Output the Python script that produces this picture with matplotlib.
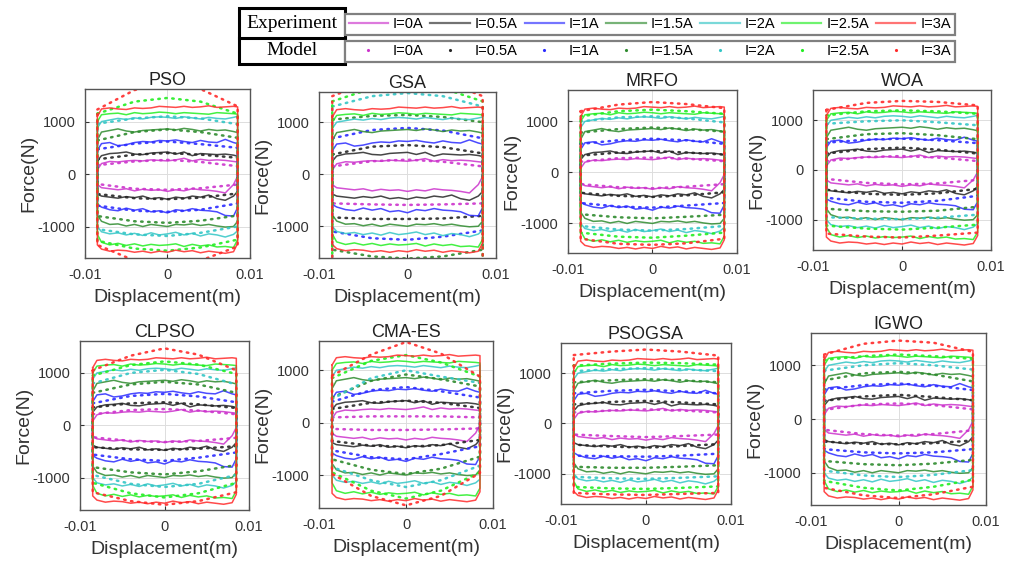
import matplotlib.pyplot as plt
from matplotlib.lines import Line2D

plt.rcParams['font.family'] = ['Liberation Sans', 'DejaVu Sans']

currents = ['I=0A', 'I=0.5A', 'I=1A', 'I=1.5A', 'I=2A', 'I=2.5A', 'I=3A']
colors = ['#cc33cc', '#262626', '#2b2bff', '#2e8b2e', '#33c6c6', '#22ee22', '#ff2a2a']

# measured loops (same test data in every panel)
disp = [-0.0085, -0.008, -0.007, -0.006, -0.005, -0.004, -0.003, -0.002, -0.001, 0.0,
        0.001, 0.002, 0.003, 0.004, 0.005, 0.006, 0.007, 0.008, 0.0085]
exp_upper = [
    [80, 200, 240, 230, 250, 260, 250, 270, 260, 250, 270, 300, 250, 280, 260, 270, 260, 240, 230],
    [250, 350, 390, 400, 420, 380, 370, 400, 410, 420, 380, 420, 350, 390, 380, 370, 380, 360, 340],
    [450, 580, 600, 540, 560, 600, 620, 610, 640, 630, 650, 620, 600, 640, 610, 600, 660, 600, 580],
    [650, 800, 830, 860, 820, 800, 830, 840, 850, 860, 840, 870, 850, 820, 850, 830, 840, 810, 790],
    [880, 1000, 1030, 1060, 1040, 1070, 1050, 1080, 1090, 1080, 1060, 1090, 1070, 1050, 1080, 1060, 1050, 1080, 1100],
    [1000, 1130, 1150, 1160, 1130, 1170, 1150, 1160, 1180, 1170, 1150, 1170, 1160, 1150, 1140, 1170, 1160, 1150, 1140],
    [1100, 1240, 1260, 1240, 1230, 1260, 1250, 1260, 1290, 1280, 1270, 1290, 1270, 1280, 1300, 1270, 1280, 1290, 1280],
]
exp_lower = [
    [-200, -260, -280, -300, -280, -320, -290, -310, -300, -330, -300, -320, -280, -300, -310, -330, -360, -200, -40],
    [-380, -420, -440, -460, -430, -450, -420, -470, -450, -480, -440, -460, -420, -440, -400, -470, -500, -420, -330],
    [-580, -630, -680, -700, -650, -690, -660, -720, -700, -740, -680, -700, -660, -690, -700, -720, -790, -800, -640],
    [-780, -900, -960, -950, -990, -960, -1000, -960, -980, -1000, -960, -970, -950, -980, -960, -990, -1010, -1000, -900],
    [-1000, -1100, -1140, -1120, -1160, -1130, -1170, -1120, -1160, -1140, -1110, -1160, -1130, -1180, -1140, -1160, -1200, -1150, -1080],
    [-1150, -1300, -1350, -1320, -1360, -1330, -1370, -1340, -1360, -1350, -1330, -1380, -1340, -1370, -1350, -1390, -1380, -1400, -1250],
    [-1350, -1430, -1470, -1450, -1460, -1490, -1470, -1500, -1470, -1490, -1450, -1480, -1460, -1500, -1470, -1490, -1510, -1480, -1320],
]

# identified model loops, one set per optimiser
model_disp = [-0.0085, -0.004, 0.0, 0.004, 0.0085]
pso_upper = [[170, 240, 270, 230, 150], [280, 370, 400, 370, 310], [470, 580, 620, 570, 500],
             [640, 800, 850, 800, 690], [960, 1060, 1100, 1060, 950], [1150, 1380, 1450, 1380, 1150],
             [1230, 1600, 1750, 1620, 1290]]
pso_lower = [[-190, -280, -300, -270, -200], [-380, -460, -480, -450, -370], [-600, -700, -720, -680, -560],
             [-800, -900, -930, -890, -790], [-1050, -1150, -1180, -1120, -1000], [-1270, -1420, -1460, -1400, -1250],
             [-1350, -1650, -1750, -1650, -1380]]
gsa_upper = [[150, 250, 280, 240, 150], [380, 530, 560, 520, 400], [690, 850, 890, 840, 690],
             [1050, 1120, 1140, 1100, 1000], [1300, 1500, 1560, 1500, 1300], [1400, 1650, 1750, 1650, 1400],
             [1500, 1800, 1900, 1800, 1500]]
gsa_lower = [[-560, -580, -590, -580, -560], [-830, -860, -860, -850, -800], [-1100, -1230, -1260, -1200, -1080],
             [-1450, -1580, -1620, -1580, -1450], [-1650, -1800, -1850, -1800, -1650], [-1750, -1900, -1950, -1900, -1750],
             [-1850, -2000, -2050, -2000, -1850]]
mrfo_upper = [[210, 280, 290, 270, 220], [330, 390, 420, 390, 350], [560, 630, 660, 630, 560],
              [780, 850, 880, 850, 800], [1000, 1080, 1100, 1060, 980], [1100, 1200, 1230, 1200, 1150],
              [1200, 1330, 1380, 1340, 1260]]
mrfo_lower = [[-230, -290, -310, -280, -230], [-400, -460, -480, -450, -390], [-600, -670, -690, -650, -600],
              [-820, -880, -900, -870, -830], [-1050, -1120, -1140, -1110, -1050], [-1180, -1260, -1280, -1240, -1180],
              [-1300, -1400, -1420, -1390, -1300]]
woa_upper = [[180, 260, 280, 250, 180], [330, 420, 450, 410, 330], [550, 610, 630, 600, 540],
             [620, 720, 740, 700, 620], [930, 980, 1000, 960, 900], [1100, 1180, 1200, 1180, 1130],
             [1210, 1350, 1390, 1370, 1300]]
woa_lower = [[-180, -260, -290, -270, -200], [-400, -480, -500, -470, -380], [-560, -640, -660, -620, -520],
             [-780, -830, -840, -820, -740], [-950, -980, -990, -960, -900], [-1120, -1180, -1200, -1160, -1100],
             [-1280, -1340, -1360, -1320, -1260]]
clpso_upper = [[210, 290, 310, 280, 210], [340, 420, 440, 400, 330], [420, 560, 600, 550, 440],
               [620, 780, 830, 780, 620], [800, 1000, 1060, 980, 780], [950, 1150, 1220, 1160, 980],
               [1050, 1330, 1470, 1350, 1050]]
clpso_lower = [[-230, -300, -320, -300, -240], [-420, -460, -470, -450, -400], [-560, -650, -680, -620, -520],
               [-800, -900, -940, -880, -760], [-950, -1120, -1180, -1120, -950], [-1100, -1300, -1380, -1300, -1100],
               [-1280, -1450, -1520, -1450, -1280]]
cmaes_upper = [[100, 120, 120, 120, 100], [260, 380, 420, 380, 280], [400, 620, 680, 600, 480],
               [480, 800, 920, 830, 690], [450, 850, 1000, 880, 760], [850, 1180, 1290, 1150, 880],
               [900, 1300, 1540, 1320, 880]]
cmaes_lower = [[-120, -140, -140, -130, -110], [-350, -440, -460, -430, -330], [-530, -660, -700, -600, -450],
               [-700, -900, -980, -880, -650], [-850, -1100, -1230, -1100, -820], [-950, -1300, -1450, -1300, -950],
               [-980, -1400, -1580, -1400, -960]]
psogsa_upper = [[220, 260, 280, 260, 220], [380, 430, 450, 420, 380], [600, 650, 670, 640, 600],
                [820, 860, 880, 860, 820], [1040, 1080, 1100, 1080, 1040], [1150, 1190, 1210, 1200, 1170],
                [1360, 1430, 1470, 1430, 1350]]
psogsa_lower = [[-220, -250, -270, -250, -220], [-420, -460, -480, -450, -410], [-640, -650, -660, -640, -600],
                [-860, -880, -880, -860, -830], [-1060, -1090, -1100, -1080, -1050], [-1260, -1290, -1300, -1280, -1250],
                [-1380, -1410, -1420, -1400, -1380]]
igwo_upper = [[170, 270, 290, 260, 180], [340, 420, 450, 410, 350], [550, 630, 660, 620, 540],
              [720, 850, 880, 830, 700], [900, 1000, 1040, 1000, 920], [1100, 1170, 1200, 1170, 1120],
              [1200, 1400, 1460, 1420, 1250]]
igwo_lower = [[-200, -280, -310, -280, -210], [-420, -460, -470, -450, -400], [-560, -620, -640, -620, -560],
              [-780, -840, -860, -830, -760], [-960, -1050, -1080, -1040, -950], [-1150, -1280, -1330, -1260, -1130],
              [-1280, -1420, -1470, -1400, -1260]]

algorithms = ['PSO', 'GSA', 'MRFO', 'WOA', 'CLPSO', 'CMA-ES', 'PSOGSA', 'IGWO']
model_upper = [pso_upper, gsa_upper, mrfo_upper, woa_upper, clpso_upper, cmaes_upper, psogsa_upper, igwo_upper]
model_lower = [pso_lower, gsa_lower, mrfo_lower, woa_lower, clpso_lower, cmaes_lower, psogsa_lower, igwo_lower]
y_limits = [(-1600, 1620), (-1610, 1580), (-1580, 1615), (-1610, 1610),
            (-1620, 1610), (-1630, 1560), (-1600, 1600), (-1600, 1600)]

# axes rectangles in figure fractions [left, bottom, width, height]
boxes = [[0.0839, 0.5409, 0.1629, 0.3007], [0.3149, 0.5409, 0.1747, 0.2954],
         [0.5607, 0.5498, 0.1668, 0.2900], [0.8026, 0.5552, 0.1757, 0.2847],
         [0.0790, 0.0925, 0.1668, 0.3007], [0.3149, 0.0961, 0.1718, 0.2972],
         [0.5538, 0.1032, 0.1678, 0.2865], [0.8006, 0.1014, 0.1728, 0.3060]]


def closed_loop(x, upper, lower):
    # upper branch left->right, lower branch back right->left, then close
    xs = list(x) + list(x)[::-1] + [x[0]]
    ys = list(upper) + list(lower)[::-1] + [upper[0]]
    return xs, ys


fig = plt.figure(figsize=(10.13, 5.62), dpi=100)

for k, name in enumerate(algorithms):
    ax = fig.add_axes(boxes[k])
    for i in range(len(currents)):
        xs, ys = closed_loop(disp, exp_upper[i], exp_lower[i])
        ax.plot(xs, ys, color=colors[i], lw=1.1, alpha=0.85)
        xs, ys = closed_loop(model_disp, model_upper[k][i], model_lower[k][i])
        ax.plot(xs, ys, color=colors[i], lw=1.8, linestyle=(0, (0.6, 2.2)),
                dash_capstyle='round', alpha=0.9)
    ax.set_xlim(-0.01, 0.01)
    ax.set_ylim(*y_limits[k])
    ax.set_xticks([-0.01, 0, 0.01])
    ax.set_xticklabels(['-0.01', '0', '0.01'])
    ax.set_yticks([-1000, 0, 1000])
    ax.set_yticklabels(['-1000', '0', '1000'])
    ax.grid(True, color='#dddddd', lw=0.7)
    ax.set_axisbelow(True)
    ax.tick_params(direction='in', length=3, labelsize=10.5, colors='#333333', pad=7)
    for s in ax.spines.values():
        s.set_color('#555555')
        s.set_linewidth(1.0)
    ax.set_title(name, fontsize=13, color='#222222', pad=3)
    ax.set_xlabel('Displacement(m)', fontsize=14, color='#333333', labelpad=5)
    ax.set_ylabel('Force(N)', fontsize=14, color='#333333', labelpad=0)

# two-row legend: measured curves on top, model curves below
exp_handles = [Line2D([], [], color=c, lw=1.6, alpha=0.65) for c in colors]
mod_handles = [Line2D([], [], color=c, ls='none', marker='.', markersize=2.5) for c in colors]
leg_kw = dict(ncol=7, loc='center', mode='expand', fontsize=10.5, handlelength=2.7,
              handletextpad=0.35, borderaxespad=0, fancybox=False, borderpad=0.25,
              columnspacing=0.6, framealpha=1)
leg1 = fig.legend(exp_handles, currents, bbox_to_anchor=(0.3405, 0.934, 0.602, 0.045), **leg_kw)
leg2 = fig.legend(mod_handles, currents, bbox_to_anchor=(0.3405, 0.887, 0.602, 0.043), **leg_kw)
for leg in (leg1, leg2):
    leg.get_frame().set_edgecolor('#808080')
    leg.get_frame().set_linewidth(1.6)

for label, yc in (('Experiment', 0.958), ('Model', 0.910)):
    fig.text(0.2885, yc, label, fontsize=14, family=['Liberation Serif'], ha='center', va='center')
fig.patches.append(plt.Rectangle((0.236, 0.886), 0.105, 0.100, transform=fig.transFigure,
                                 fill=False, lw=2.2, ec='black'))
fig.add_artist(Line2D([0.236, 0.341], [0.932, 0.932], color='black', lw=2.2))

fig.savefig('out.png', dpi=100)
